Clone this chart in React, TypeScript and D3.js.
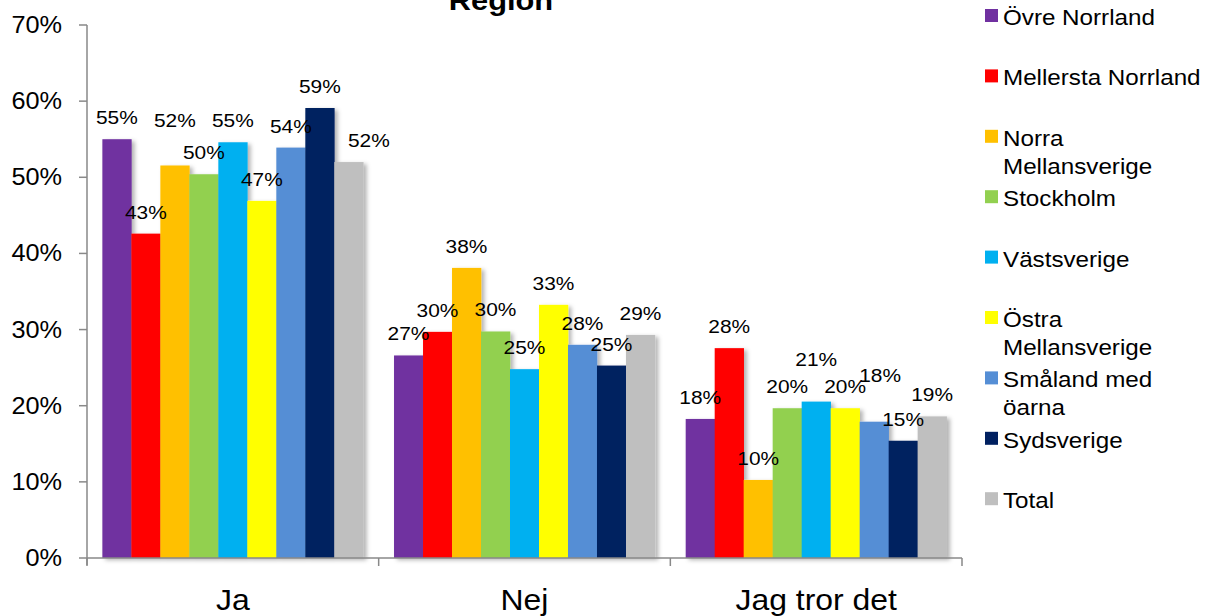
import * as d3 from 'd3';

const categories = ['Ja', 'Nej', 'Jag tror det'];
const seriesNames = [
  'Övre Norrland',
  'Mellersta Norrland',
  'Norra Mellansverige',
  'Stockholm',
  'Västsverige',
  'Östra Mellansverige',
  'Småland med öarna',
  'Sydsverige',
  'Total',
];
const legendLines = [
  ['Övre Norrland'],
  ['Mellersta Norrland'],
  ['Norra', 'Mellansverige'],
  ['Stockholm'],
  ['Västsverige'],
  ['Östra', 'Mellansverige'],
  ['Småland med', 'öarna'],
  ['Sydsverige'],
  ['Total'],
];
const colors = ['#7030A0', '#FF0000', '#FFC000', '#92D050', '#00B0F0', '#FFFF00', '#558ED5', '#002060', '#BFBFBF'];

// one row per category, one value per series
const valuesJa = [0.55, 0.426, 0.5155, 0.504, 0.546, 0.469, 0.539, 0.591, 0.52];
const valuesNej = [0.266, 0.297, 0.381, 0.2975, 0.248, 0.3325, 0.28, 0.2527, 0.293];
const valuesTror = [0.1826, 0.2756, 0.1025, 0.1967, 0.2054, 0.1967, 0.179, 0.154, 0.186];
const values = [valuesJa, valuesNej, valuesTror];

const yTicks = [0, 0.1, 0.2, 0.3, 0.4, 0.5, 0.6, 0.7];

// hand-moved data labels in the original
const labelNudge: Record<string, [number, number]> = {
  '0-2': [0, -23],
  '0-8': [20, 0],
  '2-4': [0, -21],
  '2-6': [6, -25],
};

const FONT = 'Liberation Sans, Arial, sans-serif';
const SX = 1.1;

function T({ x, y, size, anchor = 'start', bold = false, children }: any) {
  return (
    <text
      transform={`translate(${x},${y}) scale(${SX},1)`}
      fontSize={size}
      fontFamily={FONT}
      fontWeight={bold ? 'bold' : 'normal'}
      textAnchor={anchor}
      fill="#000"
    >
      {children}
    </text>
  );
}

export default function App() {
  const W = 1215;
  const H = 616;
  const left = 87;
  const right = 962;
  const top = 25;
  const bottom = 558;

  const x0 = d3.scaleBand<string>().domain(categories).range([left, right]).padding(0);
  const x1 = d3
    .scaleBand<string>()
    .domain(seriesNames)
    .range([0, x0.bandwidth()])
    .paddingInner(0)
    .paddingOuter(0.53);
  const y = d3.scaleLinear().domain([0, 0.7]).range([bottom, top]);
  const fmt = d3.format('.0%');

  const axisColor = '#898989';

  return (
    <svg
      width={W}
      height={H}
      style={{ position: 'absolute', left: 0, top: 0, background: '#fff' }}
    >
      <defs>
        <filter id="shadow" x="-20%" y="-10%" width="160%" height="130%">
          <feDropShadow dx="3" dy="2" stdDeviation="2" floodColor="#000" floodOpacity="0.3" />
        </filter>
      </defs>

      {/* title, cut at the top */}
      <T x={501} y={10} size={28} anchor="middle" bold>
        Region
      </T>

      {/* bars */}
      <g filter="url(#shadow)">
        {categories.map((c, ci) =>
          seriesNames.map((s, si) => (
            <rect
              key={`${ci}-${si}`}
              x={x0(c)! + x1(s)!}
              y={y(values[ci][si])}
              width={x1.bandwidth() + 0.3}
              height={bottom - y(values[ci][si])}
              fill={colors[si]}
            />
          ))
        )}
      </g>

      {/* data labels */}
      {categories.map((c, ci) =>
        seriesNames.map((s, si) => {
          const v = values[ci][si];
          const [dx, dy] = labelNudge[`${ci}-${si}`] || [0, 0];
          return (
            <T
              key={`l-${ci}-${si}`}
              x={x0(c)! + x1(s)! + x1.bandwidth() / 2 + dx}
              y={y(v) - 15 + dy}
              size={19}
              anchor="middle"
            >
              {fmt(v)}
            </T>
          );
        })
      )}

      {/* y axis */}
      <line x1={left} x2={left} y1={top} y2={bottom + 7} stroke={axisColor} strokeWidth={1.5} />
      {yTicks.map((t) => (
        <g key={t}>
          <line x1={left - 8} x2={left} y1={y(t)} y2={y(t)} stroke={axisColor} strokeWidth={1.5} />
          <T x={62} y={y(t) + 8} size={23} anchor="end">
            {fmt(t)}
          </T>
        </g>
      ))}

      {/* x axis */}
      <line x1={left} x2={right} y1={bottom} y2={bottom} stroke={axisColor} strokeWidth={1.5} />
      {[...categories.map((c) => x0(c)!), right].map((px, i) => (
        <line key={i} x1={px} x2={px} y1={bottom} y2={bottom + 8} stroke={axisColor} strokeWidth={1.5} />
      ))}
      {categories.map((c) => (
        <T key={c} x={x0(c)! + x0.bandwidth() / 2} y={610} size={29} anchor="middle">
          {c}
        </T>
      ))}

      {/* legend */}
      {legendLines.map((lines, i) => {
        const ly = 9 + i * 60.4;
        return (
          <g key={i}>
            <rect x={985} y={ly} width={13} height={13} fill={colors[i]} />
            {lines.map((ln, j) => (
              <T key={j} x={1003} y={ly + 16 + j * 28} size={22}>
                {ln}
              </T>
            ))}
          </g>
        );
      })}
    </svg>
  );
}
